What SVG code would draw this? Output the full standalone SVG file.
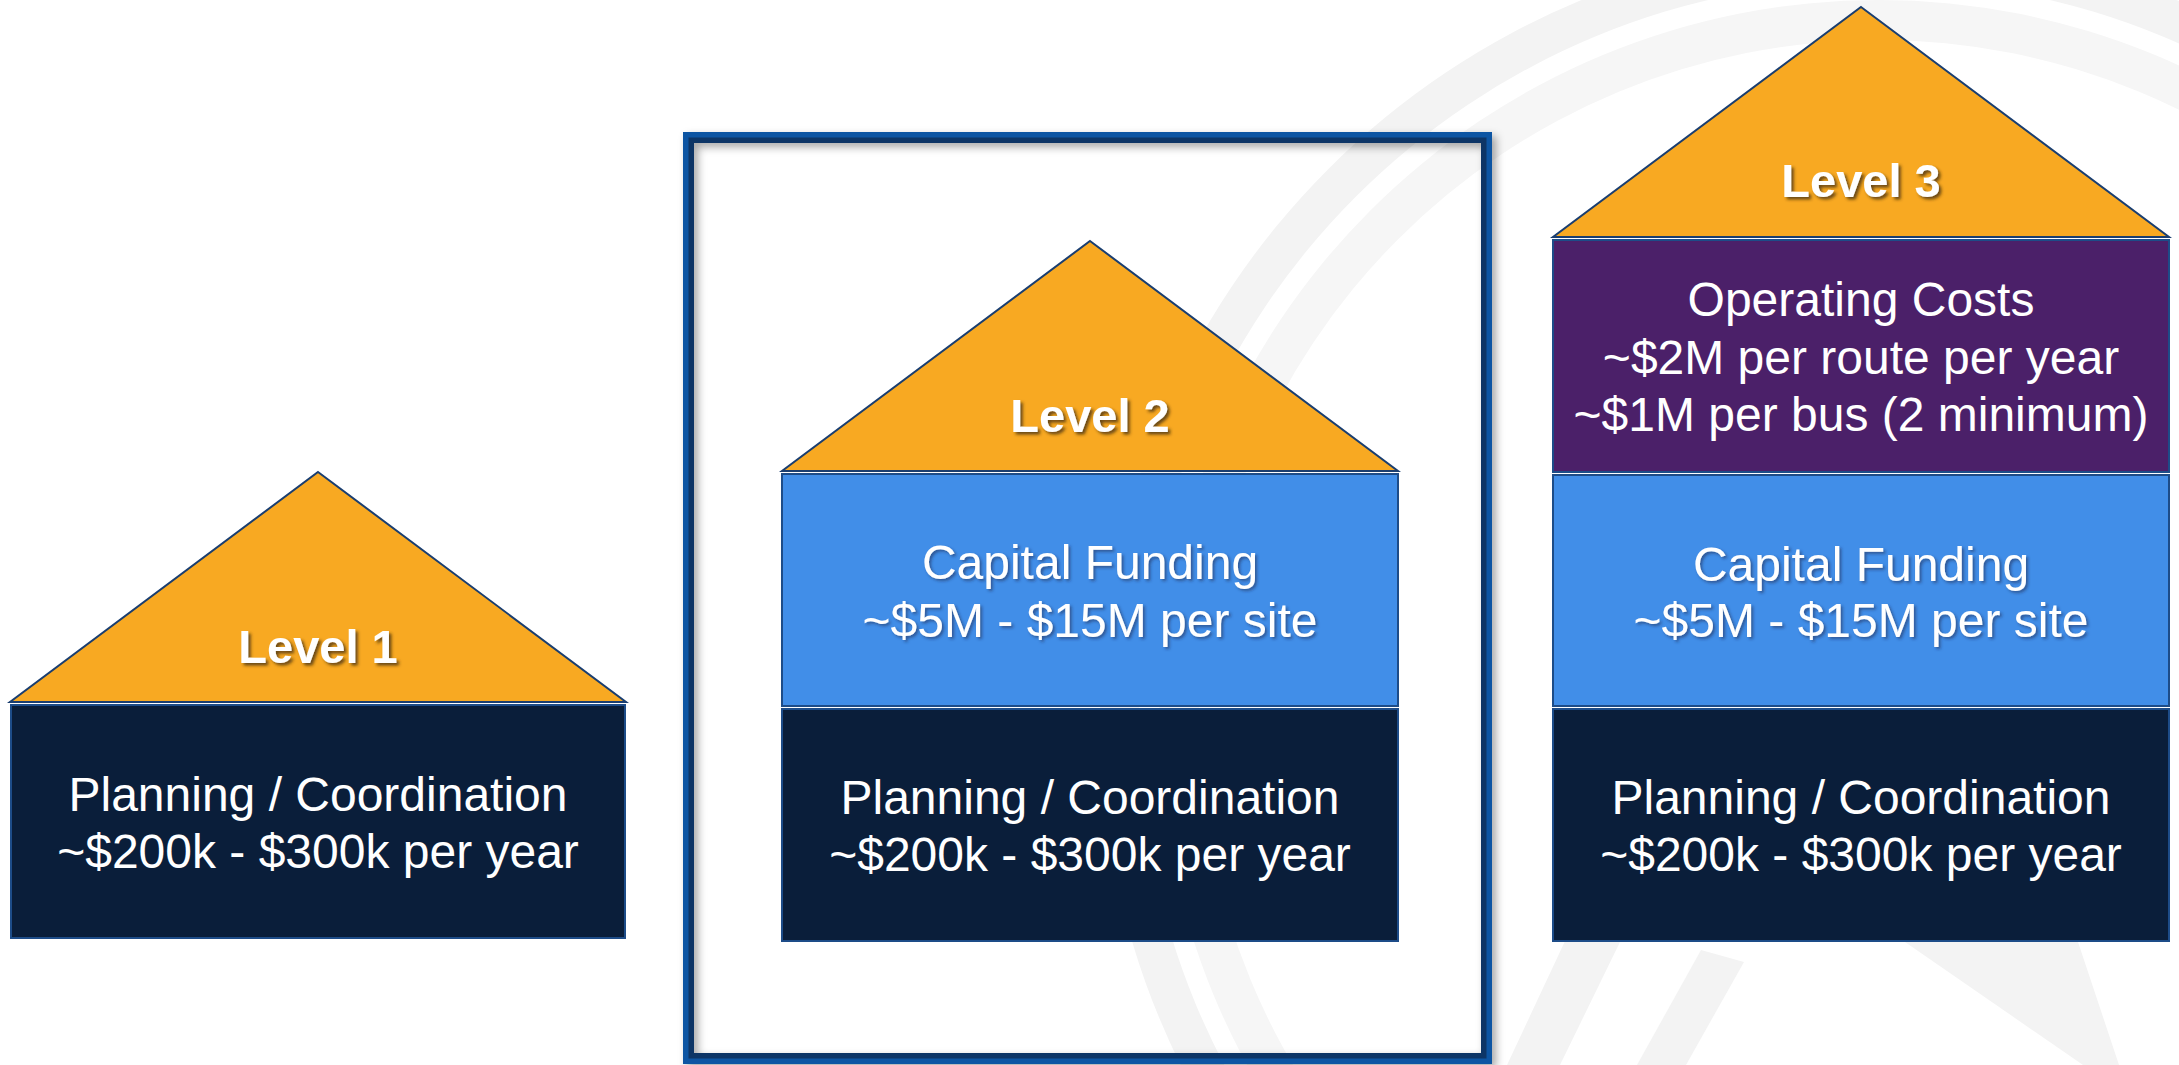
<svg xmlns="http://www.w3.org/2000/svg" width="2179" height="1065" viewBox="0 0 2179 1065">
  <defs>
    <filter id="labelShadow" x="-20%" y="-30%" width="140%" height="160%">
      <feDropShadow dx="2.5" dy="2.5" stdDeviation="1.5" flood-color="#3a2a10" flood-opacity="0.75"/>
    </filter>
    <filter id="softShadow" x="-20%" y="-30%" width="140%" height="160%">
      <feDropShadow dx="2" dy="2" stdDeviation="1.5" flood-color="#1a2a50" flood-opacity="0.55"/>
    </filter>
    <filter id="frameShadow" x="-5%" y="-5%" width="110%" height="110%">
      <feDropShadow dx="4" dy="4" stdDeviation="4" flood-color="#000" flood-opacity="0.35"/>
    </filter>
  </defs>
  <style>
    .roof { fill: #F8A922; stroke: #1A3E70; stroke-width: 2; stroke-linejoin: miter; }
    .plan { fill: #0A1E3A; stroke: #1D4C88; stroke-width: 2; }
    .capital { fill: #418EE8; stroke: #1D4C88; stroke-width: 2; }
    .operating { fill: #4B2069; stroke: #1D4C88; stroke-width: 2; }
    .level { font-family: "Liberation Sans", Arial, sans-serif; font-weight: bold; font-size: 47px; fill: #FFFFFF; text-anchor: middle; filter: url(#labelShadow); }
    .body { font-family: "Liberation Sans", Arial, sans-serif; font-size: 48px; fill: #FFFFFF; text-anchor: middle; }
    .shadowed { filter: url(#softShadow); }
    .mark { fill: #F3F3F3; }
  </style>

  <rect x="0" y="0" width="2179" height="1065" fill="#FFFFFF"/>

  <!-- faint watermark emblem: concentric rings and a road -->
  <g id="watermark">
    <path class="mark" fill-rule="evenodd" d="M 1100 720 A 779 779 0 1 1 2658 720 A 779 779 0 1 1 1100 720 Z M 1139 720 A 740 740 0 1 0 2619 720 A 740 740 0 1 0 1139 720 Z"/>
    <path fill="#F6F6F6" fill-rule="evenodd" d="M 1159 720 A 720 720 0 1 1 2599 720 A 720 720 0 1 1 1159 720 Z M 1199 720 A 680 680 0 1 0 2559 720 A 680 680 0 1 0 1199 720 Z"/>
    <polygon class="mark" points="1507,1065 1560,1065 1660,860 1610,845"/>
    <polygon class="mark" points="1637,1065 1686,1065 1744,962 1701,950"/>
    <polygon class="mark" points="1905,942 2078,942 2119,1065 2083,1065"/>
  </g>

  <!-- highlight frame around level 2 -->
  <g id="level2-frame" filter="url(#frameShadow)">
    <rect x="688.5" y="137.5" width="798" height="921" fill="none" stroke="#0F55A3" stroke-width="11"/>
    <rect x="691.25" y="140.25" width="792.5" height="915.5" fill="none" stroke="#0C3566" stroke-width="5.5"/>
  </g>

  <!-- Level 1 -->
  <g id="level1">
    <polygon class="roof" points="318,472 626,702 10,702"/>
    <rect class="plan" x="11" y="705" width="614" height="233"/>
    <text class="level" x="318" y="663">Level 1</text>
    <text class="body" x="318" y="811">Planning / Coordination</text>
    <text class="body" x="318" y="868">~$200k - $300k per year</text>
  </g>

  <!-- Level 2 -->
  <g id="level2">
    <polygon class="roof" points="1090,241 1398,471 782,471"/>
    <rect class="capital" x="782" y="474" width="616" height="232"/>
    <rect class="plan" x="782" y="709" width="616" height="232"/>
    <text class="level" x="1090" y="432">Level 2</text>
    <text class="body shadowed" x="1090" y="579">Capital Funding</text>
    <text class="body shadowed" x="1090" y="637">~$5M - $15M per site</text>
    <text class="body" x="1090" y="814">Planning / Coordination</text>
    <text class="body" x="1090" y="871">~$200k - $300k per year</text>
  </g>

  <!-- Level 3 -->
  <g id="level3">
    <polygon class="roof" points="1861,7 2169,237 1553,237"/>
    <rect class="operating" x="1553" y="240" width="616" height="232"/>
    <rect class="capital" x="1553" y="475" width="616" height="231"/>
    <rect class="plan" x="1553" y="709" width="616" height="232"/>
    <text class="level" x="1861" y="197">Level 3</text>
    <text class="body" x="1861" y="316">Operating Costs</text>
    <text class="body" x="1861" y="374">~$2M per route per year</text>
    <text class="body" x="1861" y="431">~$1M per bus (2 minimum)</text>
    <text class="body shadowed" x="1861" y="581">Capital Funding</text>
    <text class="body shadowed" x="1861" y="637">~$5M - $15M per site</text>
    <text class="body" x="1861" y="814">Planning / Coordination</text>
    <text class="body" x="1861" y="871">~$200k - $300k per year</text>
  </g>

  <!-- no connectors in this figure -->
  <g id="connectors"/>
</svg>
